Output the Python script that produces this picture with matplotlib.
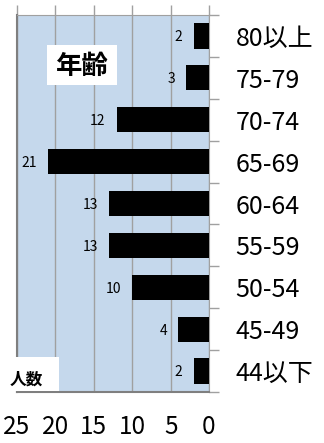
import numpy as np
import matplotlib
matplotlib.use("Agg")
import matplotlib.pyplot as plt
from matplotlib.patches import Rectangle

plt.rcParams['font.family'] = ['Noto Sans CJK JP', 'DejaVu Sans']

# data, bottom to top
age_groups = ['44以下', '45-49', '50-54', '55-59', '60-64', '65-69', '70-74', '75-79', '80以上']
counts = [2, 4, 10, 13, 13, 21, 12, 3, 2]
x_ticks = [25, 20, 15, 10, 5, 0]

bg_color = '#c5d8ec'
grid_color = '#a0a0a0'


def main():
    fig = plt.figure(figsize=(3.24, 4.43), dpi=100)
    fig.patch.set_facecolor('white')
    ax = fig.add_axes([17 / 324, 1 - 392 / 443, 192 / 324, 377 / 443])
    ax.set_facecolor(bg_color)

    y = np.arange(len(age_groups))
    ax.barh(y, counts, height=0.6, color='black', zorder=3)
    for yi, c in zip(y, counts):
        ax.annotate(str(c), xy=(c, yi), xytext=(-8, -1), textcoords='offset points',
                    ha='right', va='center', fontsize=10, zorder=4)

    ax.set_xlim(25, 0)
    ax.set_ylim(-0.5, len(age_groups) - 0.5)

    # value axis: ticks on top, labels at bottom
    ax.set_xticks(x_ticks)
    ax.set_xticklabels([str(t) for t in x_ticks])
    ax.tick_params(axis='x', top=True, bottom=False, labeltop=False, labelbottom=True,
                   direction='out', length=7, width=1, color=grid_color, pad=9,
                   labelsize=17.5)
    ax.grid(axis='x', color=grid_color, linewidth=1, zorder=1)

    # category axis on the right
    ax.yaxis.tick_right()
    ax.set_yticks(y)
    ax.set_yticklabels(age_groups)
    ax.set_yticks(np.arange(-0.5, len(age_groups)), minor=True)
    ax.tick_params(axis='y', which='major', length=0, pad=19, labelsize=18)
    ax.tick_params(axis='y', which='minor', right=True, left=False, length=7,
                   width=1, color=grid_color)

    ax.spines['top'].set_color(grid_color)
    ax.spines['right'].set_color(grid_color)
    ax.spines['left'].set_color('#7f7f7f')
    ax.spines['left'].set_linewidth(1.5)
    ax.spines['bottom'].set_color('#7f7f7f')
    ax.spines['bottom'].set_linewidth(1.5)

    # labels in white boxes
    fig.patches.append(Rectangle((47 / 324, 1 - 85 / 443), 70 / 324, 40 / 443,
                                 transform=fig.transFigure, facecolor='white',
                                 edgecolor='none', zorder=5))
    fig.text(82 / 324, 1 - 66 / 443, '年齢', ha='center', va='center',
             fontsize=19, fontweight='bold', zorder=6)
    fig.patches.append(Rectangle((0, 1 - 391 / 443), 59 / 324, 34 / 443,
                                 transform=fig.transFigure, facecolor='white',
                                 edgecolor='none', zorder=5))
    fig.text(26 / 324, 1 - 380 / 443, '人数', ha='center', va='center',
             fontsize=12, fontweight='bold', zorder=6)

    fig.savefig('out.png', dpi=100, facecolor='white')


if __name__ == "__main__":
    main()
